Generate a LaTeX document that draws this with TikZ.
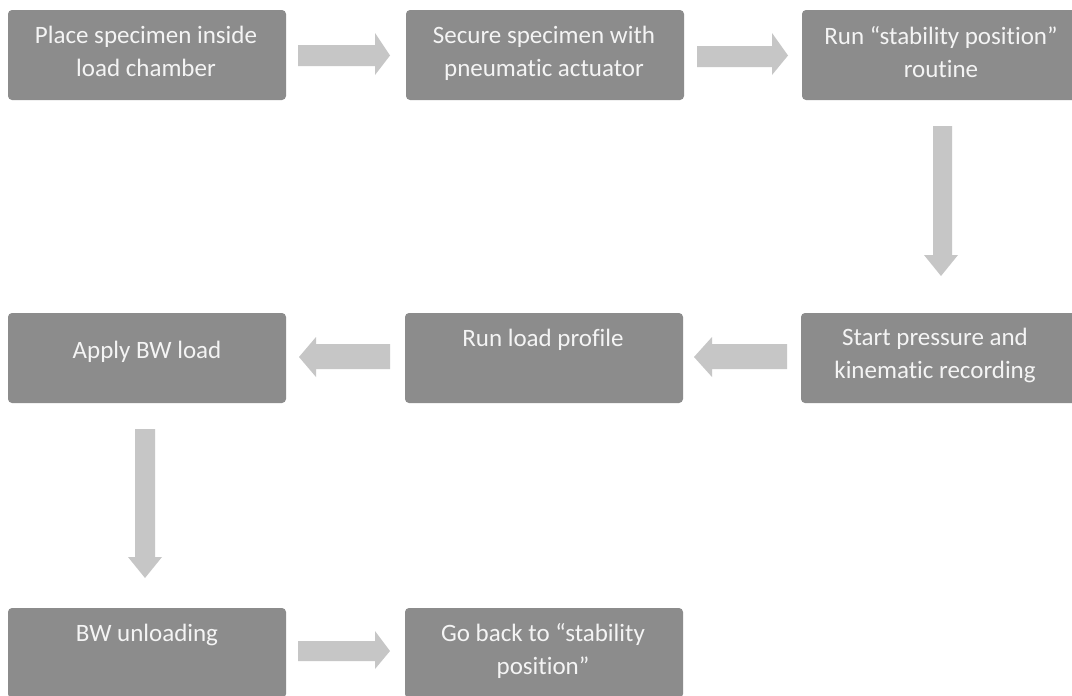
\documentclass[tikz,border=0pt]{standalone}
\usepackage{fontspec}
\setmainfont[Ligatures=NoCommon]{Carlito}
\definecolor{boxgray}{RGB}{140,140,140}
\definecolor{arrowgray}{RGB}{198,198,198}
\definecolor{txtwhite}{RGB}{244,244,244}
\tikzset{
  stepbox/.style={draw=none, fill=boxgray, rounded corners=4pt, minimum width=278pt, minimum height=90pt, inner sep=0pt, outer sep=0pt},
  steptext/.style={text=txtwhite, align=center, inner sep=0pt, font=\fontsize{25}{33}\selectfont},
  blockarrow/.style={fill=arrowgray, draw=none}
}
\begin{document}
\begin{tikzpicture}[x=1pt,y=-1pt]
\useasboundingbox (0,0) rectangle (1072,696);
\clip (0,0) rectangle (1072,696);
\fill[white] (0,0) rectangle (1072,696);
% boxes
\node[stepbox, anchor=north west] (b1) at (8,10) {};
\node[stepbox, anchor=north west] (b2) at (406,10) {};
\node[stepbox, anchor=north west] (b3) at (802,10) {};
\node[stepbox, anchor=north west] (b4) at (801,313) {};
\node[stepbox, anchor=north west] (b5) at (405,313) {};
\node[stepbox, anchor=north west] (b6) at (8,313) {};
\node[stepbox, anchor=north west] (b7) at (8,608) {};
\node[stepbox, anchor=north west] (b8) at (405,608) {};
% texts
\node[steptext] (t1) at (146,51.5) {Place specimen inside\\load chamber};
\node[steptext] (t2) at (544,53) {Secure specimen with\\pneumatic actuator};
\node[steptext] (t3) at (941,52) {Run “stability position”\\routine};
\node[steptext] (t4) at (935,355) {Start pressure and\\kinematic recording};
\node[steptext] (t5) at (543,340) {Run load profile};
\node[steptext] (t6) at (147,352) {Apply BW load};
\node[steptext] (t7) at (147,635) {BW unloading};
\node[steptext] (t8) at (543,651) {Go back to “stability\\position”};
% arrows
\fill[blockarrow] (298,45) -- (375,45) -- (375,33) -- (390,55.5) -- (375,75) -- (375,66) -- (298,66) -- cycle;
\fill[blockarrow] (697,46) -- (772,46) -- (772,33) -- (788,55.5) -- (772,75) -- (772,67) -- (697,67) -- cycle;
\fill[blockarrow] (933,126) -- (933,255) -- (924,255) -- (941,276) -- (958,255) -- (952,255) -- (952,126) -- cycle;
\fill[blockarrow] (787,344) -- (712,344) -- (712,337) -- (694,357) -- (712,377) -- (712,369) -- (787,369) -- cycle;
\fill[blockarrow] (390,344) -- (316,344) -- (316,337) -- (299,357) -- (316,377) -- (316,369) -- (390,369) -- cycle;
\fill[blockarrow] (135,429) -- (135,557) -- (128,557) -- (145,578) -- (162,557) -- (155,557) -- (155,429) -- cycle;
\fill[blockarrow] (298,641) -- (375,641) -- (375,631) -- (390,651) -- (375,669) -- (375,661) -- (298,661) -- cycle;
\end{tikzpicture}
\end{document}
